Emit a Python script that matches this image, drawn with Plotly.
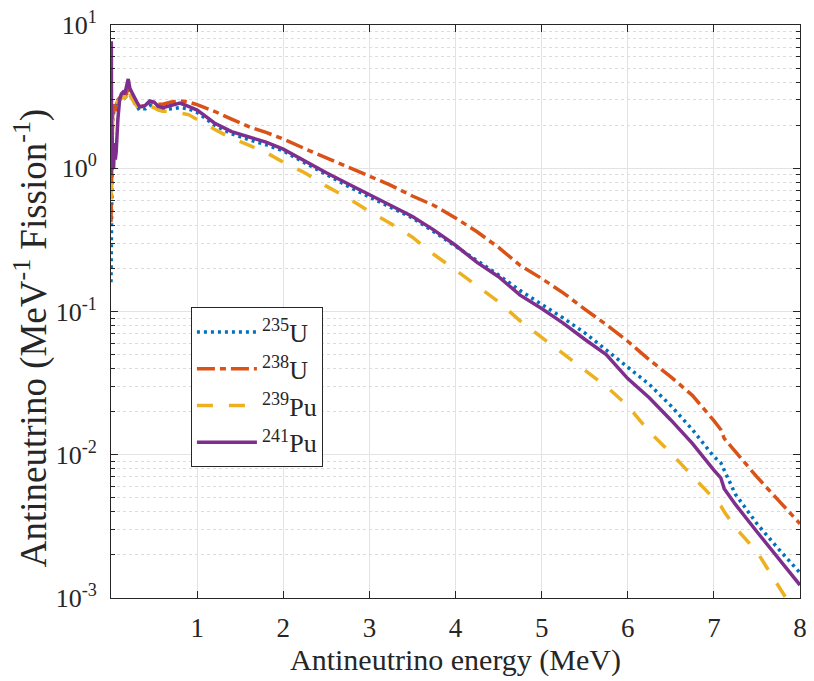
import plotly.graph_objects as go

# Energy grid (MeV)
energy = [0.0, 0.004, 0.008, 0.012, 0.016, 0.02, 0.03, 0.04, 0.05, 0.06, 0.08, 0.10,
          0.12, 0.14, 0.16, 0.18, 0.20, 0.22, 0.25, 0.28, 0.30, 0.33, 0.36, 0.40,
          0.45, 0.50, 0.55, 0.60, 0.70, 0.80, 0.90, 1.00,
          1.10, 1.20, 1.40, 1.60, 1.80, 2.00, 2.25, 2.50, 2.75, 3.00, 3.25, 3.50,
          3.75, 4.00, 4.25, 4.50, 4.75, 5.00, 5.25, 5.50, 5.75, 6.00, 6.25, 6.50,
          6.75, 7.00, 7.08, 7.12, 7.25, 7.50, 7.75, 8.00]

u235 = [0.16, 0.5, 0.9, 1.3, 1.8, 2.2, 2.5, 2.7, 2.9, 2.8, 2.9, 3.0,
        3.1, 3.2, 3.1, 3.2, 3.7, 3.3, 3.0, 2.8, 2.7, 2.55, 2.6, 2.6,
        2.75, 2.7, 2.6, 2.55, 2.6, 2.65, 2.6, 2.45,
        2.22, 2.0, 1.74, 1.58, 1.46, 1.32, 1.09, 0.90, 0.75, 0.63, 0.53, 0.45,
        0.36, 0.285, 0.225, 0.18, 0.14, 0.113, 0.09, 0.071, 0.054, 0.041, 0.031, 0.022,
        0.015, 0.0097, 0.0088, 0.0078, 0.0053, 0.0033, 0.0022, 0.0015]

u238 = [0.42, 1.2, 0.9, 1.5, 2.0, 2.4, 2.6, 2.8, 2.5, 2.9, 3.0, 3.1,
        3.2, 3.3, 3.2, 3.3, 3.8, 3.4, 3.1, 2.9, 2.8, 2.7, 2.7, 2.8,
        2.9, 2.85, 2.8, 2.8, 2.9, 2.95, 2.9, 2.78,
        2.65, 2.5, 2.2, 1.95, 1.78, 1.6, 1.37, 1.18, 1.02, 0.87, 0.76, 0.64,
        0.55, 0.45, 0.36, 0.28, 0.21, 0.17, 0.135, 0.104, 0.081, 0.062, 0.046, 0.035,
        0.026, 0.0173, 0.0150, 0.0130, 0.0105, 0.0070, 0.0048, 0.0033]

pu239 = [0.61, 1.0, 0.8, 1.4, 1.8, 2.2, 2.5, 2.7, 2.8, 2.85, 2.9, 3.0,
         3.1, 3.2, 3.1, 3.2, 3.7, 3.3, 3.0, 2.8, 2.7, 2.55, 2.6, 2.6,
         2.7, 2.65, 2.55, 2.5, 2.5, 2.45, 2.37, 2.19,
         2.05, 1.87, 1.62, 1.45, 1.29, 1.1, 0.93, 0.75, 0.62, 0.50, 0.41, 0.33,
         0.25, 0.195, 0.152, 0.117, 0.086, 0.066, 0.050, 0.039, 0.030, 0.022, 0.0145, 0.0103,
         0.0071, 0.0050, 0.0044, 0.0040, 0.0031, 0.0021, 0.0012, 0.0007]

pu241 = [0.9, 7.7, 1.0, 2.0, 1.1, 1.3, 1.0, 1.5, 1.15, 1.3, 2.2, 3.0,
         3.3, 3.4, 3.3, 3.7, 4.2, 3.6, 3.3, 3.0, 2.9, 2.7, 2.7, 2.75,
         2.95, 2.9, 2.7, 2.65, 2.75, 2.85, 2.7, 2.55,
         2.3, 2.07, 1.8, 1.65, 1.52, 1.36, 1.12, 0.93, 0.78, 0.65, 0.55, 0.46,
         0.37, 0.29, 0.22, 0.175, 0.13, 0.105, 0.083, 0.064, 0.05, 0.034, 0.025, 0.0175,
         0.012, 0.0078, 0.0069, 0.0058, 0.0045, 0.0029, 0.0019, 0.00123]

names = ["<sup>235</sup>U", "<sup>238</sup>U", "<sup>239</sup>Pu", "<sup>241</sup>Pu"]
colors = ["#0072BD", "#D95319", "#EDB120", "#7E2F8E"]
dashes = ["3px,4px", "18px,5px,6px,5px", "16px,16px", "solid"]
series = [u235, u238, pu239, pu241]

FONT = "'Liberation Serif', 'Times New Roman', Times, serif"
AX = "#262626"

fig = go.Figure()
for name, vals, col, dsh in zip(names, series, colors, dashes):
    fig.add_trace(go.Scatter(x=energy, y=vals, mode="lines", name=name,
                             line=dict(color=col, width=3.5, dash=dsh)))

ytick_vals = [1e-3, 1e-2, 1e-1, 1, 10]
ytick_text = ["10<sup>-3</sup>", "10<sup>-2</sup>", "10<sup>-1</sup>", "10<sup>0</sup>", "10<sup>1</sup>"]
minor_vals = [m * 10 ** d for d in range(-3, 1) for m in range(2, 10)]

fig.update_layout(
    width=814, height=681,
    margin=dict(l=111, r=7, t=22, b=83),
    paper_bgcolor="white", plot_bgcolor="white",
    font=dict(family=FONT, color="#262626", size=27),
    showlegend=True,
    legend=dict(x=0.116, y=0.507, xanchor="left", yanchor="top",
                bgcolor="white", bordercolor=AX, borderwidth=1,
                font=dict(family=FONT, size=26, color="#262626"),
                itemwidth=60, tracegroupgap=0),
    annotations=[dict(text="Antineutrino (MeV<sup>-1</sup> Fission<sup>-1</sup>)",
                      xref="paper", yref="paper", x=-0.115, y=0.453,
                      xanchor="center", yanchor="middle", textangle=-90,
                      showarrow=False, font=dict(family=FONT, size=37, color="#262626"))],
)
fig.update_xaxes(
    range=[0, 8], tickvals=[1, 2, 3, 4, 5, 6, 7, 8],
    ticks="inside", ticklen=7, tickcolor=AX,
    showline=True, linecolor=AX, linewidth=1, mirror="allticks",
    showgrid=True, gridcolor="#e3e3e3", zeroline=False,
    tickfont=dict(family=FONT, size=27), ticklabelstandoff=6,
    title=dict(text="Antineutrino energy (MeV)", font=dict(family=FONT, size=30), standoff=0),
)
fig.update_yaxes(
    type="log", range=[-3, 1], tickvals=ytick_vals, ticktext=ytick_text,
    ticks="inside", ticklen=7, tickcolor=AX,
    showline=True, linecolor=AX, linewidth=1, mirror="allticks",
    showgrid=True, gridcolor="#e3e3e3", zeroline=False,
    tickfont=dict(family=FONT, size=26), ticklabelstandoff=8,
    minor=dict(tickvals=minor_vals, ticks="inside", ticklen=4, tickcolor=AX,
               showgrid=True, gridcolor="#dcdcdc", griddash="dot"),
)

fig.write_html("out.html")
